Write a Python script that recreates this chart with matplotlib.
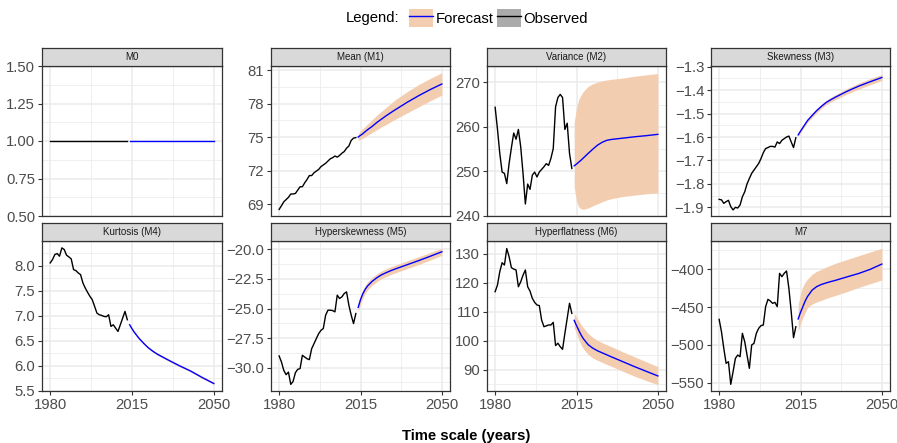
import numpy as np
import matplotlib
matplotlib.use("Agg")
import matplotlib.pyplot as plt
from matplotlib.patches import Patch
from matplotlib.lines import Line2D
from matplotlib.legend_handler import HandlerTuple

plt.rcParams['font.family'] = ['Liberation Sans', 'DejaVu Sans']

# ---------------- data ----------------
obs_years = list(range(1980, 2014))
fc_years = [2014, 2015, 2016, 2017, 2018, 2020, 2022, 2024, 2026, 2028, 2030,
            2035, 2040, 2045, 2050]

titles = ["M0", "Mean (M1)", "Variance (M2)", "Skewness (M3)",
          "Kurtosis (M4)", "Hyperskewness (M5)", "Hyperflatness (M6)", "M7"]

m0_obs = [1.0] * 34
m0_fc = [1.0] * 15
m0_lo = [1.0] * 15
m0_hi = [1.0] * 15

m1_obs = [68.52, 68.85, 69.2, 69.4, 69.6, 69.9, 69.9, 69.95, 70.25, 70.55, 70.55, 70.9,
          71.2, 71.55, 71.55, 71.8, 71.95, 72.1, 72.35, 72.5, 72.65, 72.85, 73.05, 73.15,
          73.3, 73.2, 73.35, 73.55, 73.7, 74.0, 74.2, 74.7, 74.9, 74.95]
m1_fc = [75.0, 75.15, 75.3, 75.48, 75.65, 75.95, 76.3, 76.6, 76.9, 77.18, 77.45,
         78.1, 78.7, 79.25, 79.75]
m1_hi = [75.3, 75.55, 75.75, 75.95, 76.15, 76.55, 76.95, 77.3, 77.65, 78.0, 78.35,
         79.05, 79.7, 80.25, 80.75]
m1_lo = [74.7, 74.8, 74.9, 75.02, 75.15, 75.4, 75.65, 75.9, 76.12, 76.37, 76.6,
         77.15, 77.7, 78.25, 78.75]

m2_obs = [264.4, 259.5, 254.0, 249.8, 249.5, 247.2, 251.7, 255.3, 258.6, 257.2, 259.4, 255.5,
          249.5, 242.6, 247.1, 245.9, 249.1, 249.8, 248.7, 249.8, 250.4, 251.0, 251.7, 251.3,
          252.9, 255.1, 264.5, 266.6, 267.3, 266.6, 259.4, 260.8, 254.0, 250.6]
m2_fc = [251.2, 251.6, 252.05, 252.5, 253.0, 254.0, 254.95, 255.85, 256.5, 256.95, 257.15,
         257.45, 257.75, 258.0, 258.3]
m2_hi = [261.0, 264.3, 266.2, 267.2, 268.0, 269.1, 269.7, 270.05, 270.35, 270.55, 270.7,
         271.0, 271.4, 271.7, 272.0]
m2_lo = [246.5, 243.2, 241.9, 241.5, 241.4, 241.7, 242.2, 242.65, 243.1, 243.5, 243.8,
         244.3, 244.6, 244.9, 245.1]

m3_obs = [-1.866, -1.868, -1.883, -1.876, -1.87, -1.897, -1.911, -1.90, -1.903, -1.89, -1.855,
          -1.834, -1.80, -1.777, -1.755, -1.741, -1.727, -1.713, -1.692, -1.667, -1.649, -1.645,
          -1.64, -1.64, -1.643, -1.621, -1.628, -1.614, -1.607, -1.60, -1.596, -1.621, -1.645,
          -1.603]
m3_fc = [-1.591, -1.575, -1.56, -1.545, -1.53, -1.508, -1.487, -1.469, -1.453, -1.441, -1.43,
         -1.405, -1.383, -1.364, -1.346]
m3_hi = [-1.585, -1.568, -1.553, -1.538, -1.522, -1.499, -1.478, -1.46, -1.443, -1.431, -1.419,
         -1.393, -1.37, -1.351, -1.333]
m3_lo = [-1.597, -1.582, -1.567, -1.552, -1.538, -1.517, -1.496, -1.478, -1.463, -1.451, -1.441,
         -1.417, -1.396, -1.377, -1.359]

m4_obs = [8.053, 8.12, 8.22, 8.24, 8.187, 8.353, 8.32, 8.207, 8.173, 8.133, 7.92, 7.9,
          7.853, 7.82, 7.653, 7.553, 7.467, 7.387, 7.32, 7.187, 7.053, 7.02, 7.007, 6.987,
          6.98, 7.02, 6.787, 6.82, 6.753, 6.687, 6.82, 6.953, 7.087, 6.92]
m4_fc = [6.82, 6.74, 6.67, 6.61, 6.55, 6.45, 6.36, 6.29, 6.23, 6.18, 6.13,
         6.01, 5.90, 5.77, 5.65]
m4_hi = [6.84, 6.76, 6.69, 6.63, 6.57, 6.47, 6.38, 6.31, 6.25, 6.20, 6.15,
         6.03, 5.92, 5.79, 5.67]
m4_lo = [6.80, 6.72, 6.65, 6.59, 6.53, 6.43, 6.34, 6.27, 6.21, 6.16, 6.11,
         5.99, 5.88, 5.75, 5.63]

m5_obs = [-29.01, -29.52, -30.23, -30.59, -30.37, -31.41, -31.16, -30.42, -30.14, -30.08,
          -28.95, -29.10, -29.24, -29.32, -28.39, -27.97, -27.54, -27.12, -26.84, -26.69,
          -25.56, -25.14, -25.14, -25.17, -25.28, -23.87, -24.15, -24.01, -23.73, -23.59,
          -24.72, -25.56, -26.27, -25.42]
m5_fc = [-24.9, -24.25, -23.75, -23.38, -23.1, -22.7, -22.4, -22.15, -21.97, -21.8, -21.65,
         -21.3, -20.95, -20.58, -20.2]
m5_hi = [-24.55, -23.9, -23.4, -23.04, -22.76, -22.37, -22.07, -21.82, -21.64, -21.47, -21.32,
         -20.97, -20.62, -20.26, -19.9]
m5_lo = [-25.25, -24.6, -24.1, -23.72, -23.44, -23.03, -22.73, -22.48, -22.3, -22.13, -21.98,
         -21.63, -21.28, -20.9, -20.5]

m6_obs = [116.9, 119.2, 123.8, 126.9, 126.1, 131.8, 129.0, 125.2, 124.7, 124.4, 118.6, 120.3,
          122.6, 124.4, 118.6, 117.1, 114.6, 113.2, 112.3, 112.1, 107.1, 104.8, 105.1, 105.4,
          105.4, 106.3, 98.3, 99.1, 97.9, 97.0, 102.5, 107.7, 112.9, 109.4]
m6_fc = [107.0, 105.2, 103.5, 101.9, 100.6, 98.6, 97.4, 96.5, 95.8, 95.1, 94.4,
         92.7, 91.0, 89.4, 87.8]
m6_hi = [109.5, 108.1, 106.8, 105.5, 104.4, 102.5, 101.1, 100.1, 99.3, 98.6, 97.9,
         96.1, 94.4, 92.7, 91.0]
m6_lo = [104.5, 102.3, 100.3, 98.5, 97.1, 95.2, 94.0, 93.2, 92.5, 91.8, 91.1,
         89.4, 87.7, 86.2, 84.8]

m7_obs = [-466.2, -482.5, -504.5, -524.4, -522.2, -552.2, -535.4, -517.8, -513.4, -515.6,
          -484.7, -495.7, -513.4, -531.0, -500.1, -497.9, -484.7, -478.1, -474.5, -473.7,
          -449.4, -439.7, -441.9, -445.0, -443.7, -449.4, -405.3, -409.7, -405.3, -402.2,
          -425.1, -456.0, -490.4, -475.9]
m7_fc = [-465.7, -457.0, -449.5, -442.0, -436.0, -427.5, -422.8, -420.0, -418.0, -416.2, -414.6,
         -410.0, -405.5, -400.0, -393.0]
m7_hi = [-447.0, -432.0, -423.0, -417.0, -413.0, -406.5, -402.5, -400.0, -397.0, -394.5, -392.0,
         -387.0, -382.0, -377.0, -372.0]
m7_lo = [-482.0, -472.0, -464.0, -457.0, -451.0, -446.0, -443.0, -441.0, -438.5, -436.5, -434.5,
         -429.5, -424.0, -419.0, -414.0]

x_ticks = [1980, 2015, 2050]

y_ticks = [
    [0.50, 0.75, 1.00, 1.25, 1.50],
    [69, 72, 75, 78, 81],
    [240, 250, 260, 270],
    [-1.9, -1.8, -1.7, -1.6, -1.5, -1.4, -1.3],
    [5.5, 6.0, 6.5, 7.0, 7.5, 8.0],
    [-30.0, -27.5, -25.0, -22.5, -20.0],
    [90, 100, 110, 120, 130],
    [-550, -500, -450, -400],
]
y_fmt = ["{:.2f}", "{:.0f}", "{:.0f}", "{:.1f}", "{:.1f}", "{:.1f}", "{:.0f}", "{:.0f}"]
y_lims = [(0.5, 1.5), (67.93, 81.36), (239.9, 273.7), (-1.937, -1.297),
          (5.5, 8.49), (-31.97, -19.29), (82.6, 134.4), (-561.0, -362.5)]

series = [
    (m0_obs, m0_fc, m0_lo, m0_hi),
    (m1_obs, m1_fc, m1_lo, m1_hi),
    (m2_obs, m2_fc, m2_lo, m2_hi),
    (m3_obs, m3_fc, m3_lo, m3_hi),
    (m4_obs, m4_fc, m4_lo, m4_hi),
    (m5_obs, m5_fc, m5_lo, m5_hi),
    (m6_obs, m6_fc, m6_lo, m6_hi),
    (m7_obs, m7_fc, m7_lo, m7_hi),
]

# ---------------- style ----------------
W, H = 897, 443
band_col = "#F3CDB0"
grid_col = "#EBEBEB"
border_col = "#333333"
strip_col = "#D9D9D9"
tick_col = "#4D4D4D"
fs = 10.7

col_left = [42, 271, 487, 711]
col_right = [222, 450, 666, 890]
row_top = [66, 241]
row_bot = [216, 391]
strip_h = 18

fig = plt.figure(figsize=(W / 100, H / 100), dpi=100)


def fx(px):
    return px / W


def fy(py):
    return 1 - py / H


def minor_from(maj):
    step = maj[1] - maj[0]
    return [maj[0] - step / 2] + [m + step / 2 for m in maj]


for i, (obs, fc, lo, hi) in enumerate(series):
    r, c = divmod(i, 4)
    l, rgt = col_left[c], col_right[c]
    t, b = row_top[r], row_bot[r]
    ax = fig.add_axes([fx(l), fy(b), fx(rgt - l), (b - t) / H])
    ax.set_facecolor("white")
    ax.fill_between(fc_years, lo, hi, color=band_col, lw=0, zorder=2)
    ax.plot(obs_years, obs, color="black", lw=1.0, zorder=3)
    ax.plot(fc_years, fc, color="blue", lw=1.0, zorder=3)

    ax.set_xlim(1976.5, 2053.5)
    ax.set_xticks(x_ticks)
    ax.set_xticks([1997.5, 2032.5], minor=True)
    ax.set_yticks(y_ticks[i])
    ax.set_yticks(minor_from(y_ticks[i]), minor=True)
    ax.set_ylim(*y_lims[i])
    ax.set_yticklabels([y_fmt[i].format(v).replace("-", "\u2212") for v in y_ticks[i]])
    ax.grid(which="major", color=grid_col, lw=1.1, zorder=0)
    ax.grid(which="minor", color=grid_col, lw=0.55, zorder=0)
    ax.set_axisbelow(True)
    ax.tick_params(which="minor", length=0)
    ax.tick_params(which="major", length=2.75, width=0.8, color=border_col,
                   labelsize=fs, labelcolor=tick_col, pad=2.2)
    if r == 0:
        ax.tick_params(axis="x", which="both", bottom=False, labelbottom=False)
    for s in ax.spines.values():
        s.set_color(border_col)
        s.set_linewidth(0.9)

    # strip
    sax = fig.add_axes([fx(l), fy(t), fx(rgt - l), strip_h / H])
    sax.set_facecolor(strip_col)
    sax.set_xticks([])
    sax.set_yticks([])
    for s in sax.spines.values():
        s.set_color(border_col)
        s.set_linewidth(0.9)
    sax.text(0.5, 0.5, titles[i], ha="center", va="center", fontsize=7.0,
             color="#1A1A1A", transform=sax.transAxes)

# legend
fig.text(fx(346), fy(18), "Legend:", ha="left", va="center", fontsize=fs, color="black")
handles = [(Patch(facecolor=band_col, edgecolor="none"), Line2D([], [], color="blue", lw=1.0)),
           (Patch(facecolor="#ABABAB", edgecolor="none"), Line2D([], [], color="black", lw=1.0))]
fig.legend(handles=handles, labels=["Forecast", "Observed"], loc="center left",
           bbox_to_anchor=(fx(409), fy(18)), ncol=2, frameon=False, fontsize=fs,
           handler_map={tuple: HandlerTuple(ndivide=1, pad=0)},
           handlelength=1.6, handleheight=1.55, handletextpad=0.2,
           columnspacing=0.2, borderpad=0, borderaxespad=0)

fig.text(fx(466), fy(436), "Time scale (years)", ha="center", va="center",
         fontsize=fs, fontweight="bold", color="black")

fig.savefig("out.png", dpi=100)
